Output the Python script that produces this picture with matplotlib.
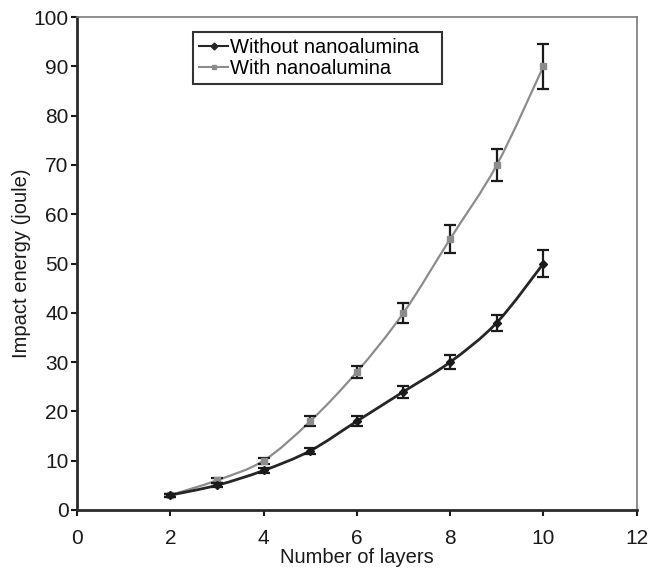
import matplotlib.pyplot as plt
from matplotlib.path import Path
from matplotlib.patches import PathPatch
import numpy as np

plt.rcParams['font.family'] = ['Liberation Sans', 'DejaVu Sans']

# data
layers = [2, 3, 4, 5, 6, 7, 8, 9, 10]
without_nano = [3, 5, 8, 12, 18, 24, 30, 38, 50]
without_err = [0.3, 0.4, 0.5, 0.6, 1.0, 1.2, 1.5, 1.6, 2.8]
with_nano = [3, 6, 10, 18, 28, 40, 55, 70, 90]
with_err = [0.3, 0.5, 0.6, 1.0, 1.3, 2.0, 2.8, 3.3, 4.5]


def smooth_path(x, y):
    # Excel-style smoothed line: Catmull-Rom segments as cubic Bezier
    x = np.asarray(x, float)
    y = np.asarray(y, float)
    verts = [(x[0], y[0])]
    codes = [Path.MOVETO]
    n = len(x)
    for i in range(n - 1):
        i0 = max(i - 1, 0)
        i3 = min(i + 2, n - 1)
        c1 = (x[i] + (x[i + 1] - x[i0]) / 6, y[i] + (y[i + 1] - y[i0]) / 6)
        c2 = (x[i + 1] - (x[i3] - x[i]) / 6, y[i + 1] - (y[i3] - y[i]) / 6)
        verts += [c1, c2, (x[i + 1], y[i + 1])]
        codes += [Path.CURVE4] * 3
    return Path(verts, codes)


fig = plt.figure(figsize=(6.53, 5.71), dpi=100)
ax = fig.add_axes([0.118, 0.107, 0.857, 0.863])

ax.add_patch(PathPatch(smooth_path(layers, with_nano), fill=False,
                       edgecolor='#8c8c8c', linewidth=1.6, zorder=2))
ax.add_patch(PathPatch(smooth_path(layers, without_nano), fill=False,
                       edgecolor='#262626', linewidth=2.0, zorder=3))

ax.errorbar(layers, with_nano, yerr=with_err, fmt='s', color='#8c8c8c',
            markersize=5, ecolor='#1a1a1a', elinewidth=1.6, capsize=4,
            capthick=1.6, zorder=4)
ax.errorbar(layers, without_nano, yerr=without_err, fmt='D', color='#1a1a1a',
            markersize=4, ecolor='#1a1a1a', elinewidth=1.6, capsize=4,
            capthick=1.6, zorder=5)

# legend proxies
ax.plot([], [], color='#262626', marker='D', markersize=3.5, linewidth=1.5,
        label='Without nanoalumina   ')
ax.plot([], [], color='#8c8c8c', marker='s', markersize=3.5, linewidth=1.5,
        label='With nanoalumina')
leg = ax.legend(loc='upper left', bbox_to_anchor=(0.207, 0.970), fontsize=14.5,
                frameon=True, fancybox=False, handlelength=1.45,
                handletextpad=0.1, borderpad=0.3, labelspacing=0.1,
                borderaxespad=0)
leg.get_frame().set_edgecolor('black')
leg.get_frame().set_linewidth(1.5)

ax.set_xlim(0, 12)
ax.set_ylim(0, 100)
ax.set_xticks(range(0, 13, 2))
ax.set_yticks(range(0, 101, 10))
ax.tick_params(axis='both', labelsize=15, direction='out', length=4,
               width=1.5, colors='#1a1a1a')
ax.tick_params(axis='y', pad=2)
ax.tick_params(axis='x', pad=10)

for side in ['left', 'bottom']:
    ax.spines[side].set_linewidth(2)
    ax.spines[side].set_color('#2a2a2a')
for side in ['top', 'right']:
    ax.spines[side].set_linewidth(1.2)
    ax.spines[side].set_color('#7a7a7a')

ax.set_xlabel('Number of layers', fontsize=14.5, labelpad=0, color='#1a1a1a')
ax.set_ylabel('Impact energy (joule)', fontsize=14.5, labelpad=2, color='#1a1a1a')

plt.savefig('out.png', dpi=100)
